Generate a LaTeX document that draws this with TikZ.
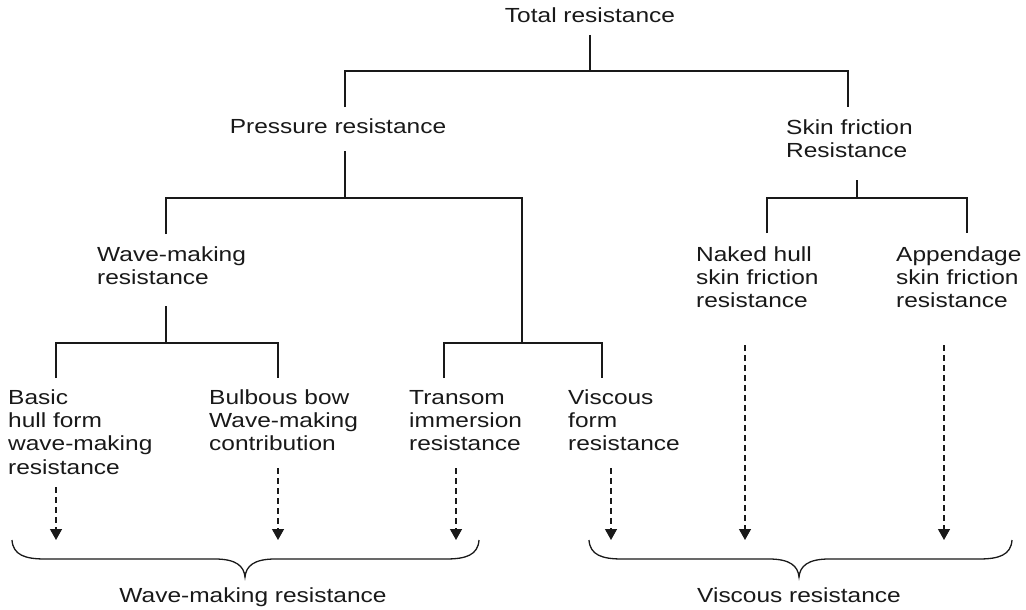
\documentclass[tikz,border=0pt]{standalone}
\usepackage{fontspec}
\setmainfont{Liberation Sans}[FakeStretch=1.2]
\usetikzlibrary{arrows.meta}
\begin{document}
\begin{tikzpicture}[x=1pt,y=-1pt,
  lbl/.style={inner sep=0pt, align=left, font=\fontsize{20.4}{23.4}\selectfont, text=black!90},
  tree/.style={line width=1.4pt, black!90},
  darr/.style={line width=1.3pt, black!90, dash pattern=on 6pt off 4pt, -{Triangle[width=12pt,length=11pt]}},
  bracestyle/.style={line width=1.3pt, black!90}]
\useasboundingbox (0,0) rectangle (1026,610);
% nodes (base anchor = baseline of the last line)
\node[lbl, anchor=base] (total) at (590,23) {Total resistance};
\node[lbl, anchor=base] (press) at (338,133) {Pressure resistance};
\node[lbl, anchor=base west] (skin) at (786,157.4) {Skin friction\\Resistance};
\node[lbl, anchor=base west] (wave) at (97,284.4) {Wave-making\\resistance};
\node[lbl, anchor=base west] (naked) at (696,307.8) {Naked hull\\skin friction\\resistance};
\node[lbl, anchor=base west] (app) at (896,307.8) {Appendage\\skin friction\\resistance};
\node[lbl, anchor=base west] (basic) at (8,474.2) {Basic\\hull form\\wave-making\\resistance};
\node[lbl, anchor=base west] (bulb) at (209,450.8) {Bulbous bow\\Wave-making\\contribution};
\node[lbl, anchor=base west] (trans) at (409,450.8) {Transom\\immersion\\resistance};
\node[lbl, anchor=base west] (visc) at (568,450.8) {Viscous\\form\\resistance};
\node[lbl, anchor=base] (wmr) at (253,602) {Wave-making resistance};
\node[lbl, anchor=base] (vr) at (799,602) {Viscous resistance};
% connector coordinates
\coordinate (t0) at (590,35);
\coordinate (t1) at (590,71);
\coordinate (p0) at (345,107);
\coordinate (s0) at (848,107);
\coordinate (p1) at (345,151);
\coordinate (p2) at (345,198);
\coordinate (w0) at (166,234);
\coordinate (r0) at (522,343);
\coordinate (tr0) at (444,378);
\coordinate (vi0) at (602,378);
\coordinate (w1) at (166,306);
\coordinate (w2) at (166,343);
\coordinate (b0) at (56,378);
\coordinate (bb0) at (278,378);
\coordinate (k1) at (857,180);
\coordinate (k2) at (857,198);
\coordinate (n0) at (767,233);
\coordinate (a0) at (967,233);
% tree lines
\draw[tree] (t0) -- (t1);
\draw[tree] (p0) |- (t1) -| (s0);
\draw[tree] (p1) -- (p2);
\draw[tree] (w0) |- (p2) -| (r0);
\draw[tree] (tr0) |- (r0) -| (vi0);
\draw[tree] (w1) -- (w2);
\draw[tree] (b0) |- (w2) -| (bb0);
\draw[tree] (k1) -- (k2);
\draw[tree] (n0) |- (k2) -| (a0);
% dashed arrows
\coordinate (d1a) at (56,487);  \coordinate (d1b) at (56,540);
\coordinate (d2a) at (278,468); \coordinate (d2b) at (278,540);
\coordinate (d3a) at (456,468); \coordinate (d3b) at (456,540);
\coordinate (d4a) at (611,468); \coordinate (d4b) at (611,540);
\coordinate (d5a) at (745,345); \coordinate (d5b) at (745,540);
\coordinate (d6a) at (944,345); \coordinate (d6b) at (944,540);
\draw[darr] (d1a) -- (d1b);
\draw[darr] (d2a) -- (d2b);
\draw[darr] (d3a) -- (d3b);
\draw[darr] (d4a) -- (d4b);
\draw[darr] (d5a) -- (d5b);
\draw[darr] (d6a) -- (d6b);
% braces
\draw[bracestyle] (12,540) .. controls (13,555) and (25,559) .. (45,559) -- (215,559)
  .. controls (236,559) and (244,566) .. (245,577)
  .. controls (246,566) and (254,559) .. (275,559) -- (446,559)
  .. controls (466,559) and (478,555) .. (479,540);
\draw[bracestyle] (589,540) .. controls (590,555) and (602,559) .. (622,559) -- (769,559)
  .. controls (790,559) and (798,566) .. (799,577)
  .. controls (800,566) and (808,559) .. (829,559) -- (979,559)
  .. controls (999,559) and (1011,555) .. (1012,540);
\end{tikzpicture}
\end{document}
